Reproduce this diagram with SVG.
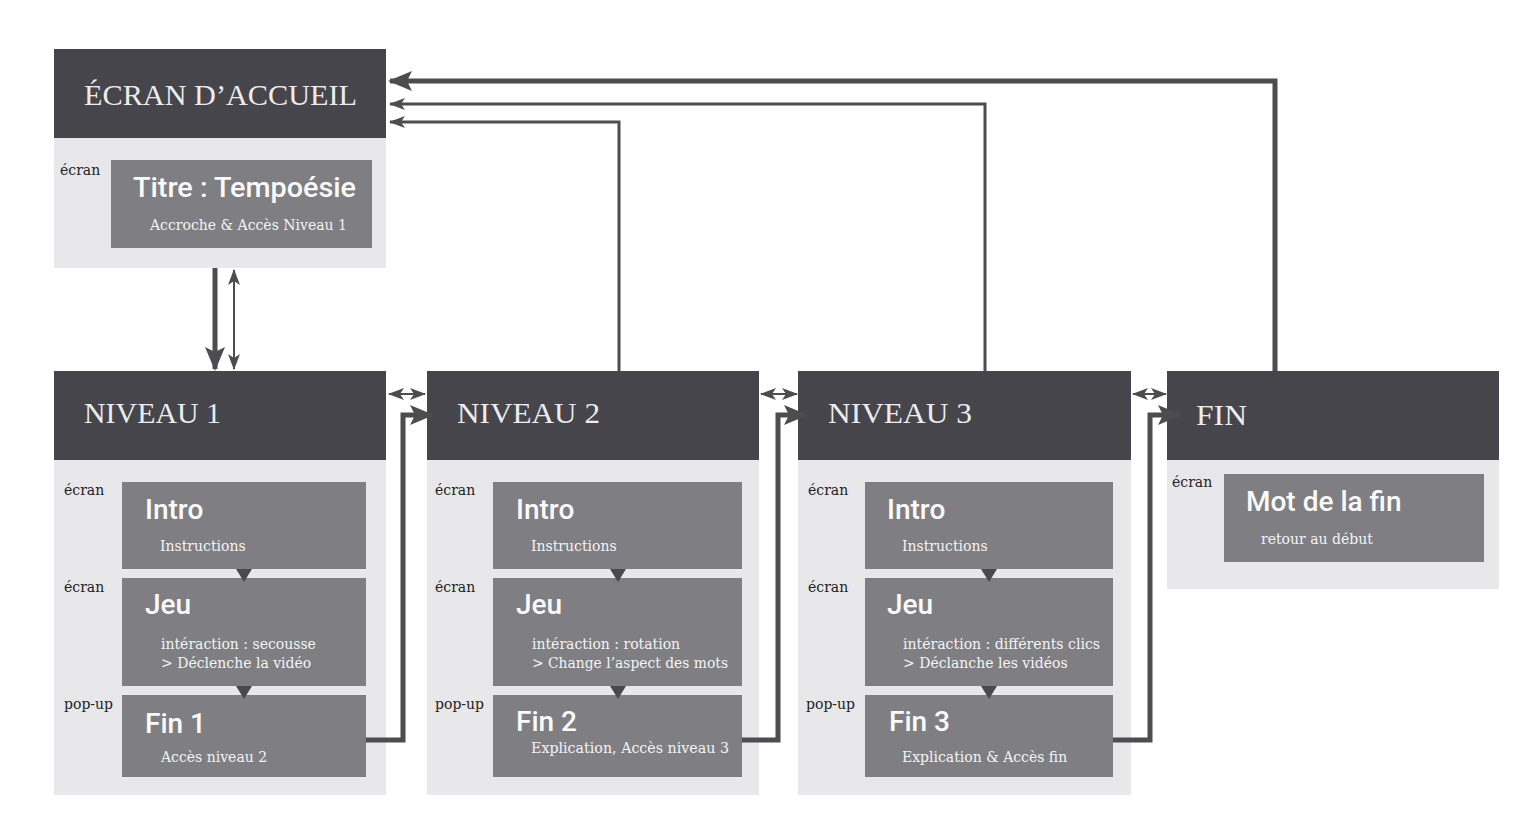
<svg xmlns="http://www.w3.org/2000/svg" width="1535" height="817" viewBox="0 0 1535 817">
<defs>
<marker id="big" markerUnits="userSpaceOnUse" markerWidth="24" markerHeight="20" refX="22" refY="10" orient="auto-start-reverse"><path d="M0,0 L24,10 L0,20 L5,10 z" fill="#4d4d50"/></marker>
<marker id="sm" markerUnits="userSpaceOnUse" markerWidth="16" markerHeight="12" refX="15" refY="6" orient="auto-start-reverse"><path d="M0,0 L16,6 L0,12 L4,6 z" fill="#4d4d50"/></marker>
</defs>
<style>
.hd{fill:#46454b}
.bd{fill:#e8e8ea}
.bx{fill:#7f7f83}
.ht{font-family:"Liberation Serif",serif;font-size:30px;fill:#ececee}
.tt{font-family:Roboto,"Liberation Sans",sans-serif;font-weight:500;font-size:28px;fill:#fafafa}
.st{font-family:"DejaVu Serif",serif;font-size:14px;fill:#f4f4f4}
.lb{font-family:"DejaVu Serif",serif;font-size:14px;fill:#222}
.c{fill:none;stroke:#4d4d50}
.tri{fill:#4a4a4e}
</style>
<rect width="1535" height="817" fill="#fff"/>
<g id="accueil">
<rect class="bd" x="54" y="138" width="332" height="130"/>
<rect class="hd" x="54" y="49" width="332" height="89"/>
<text class="ht" x="84" y="105" textLength="273" lengthAdjust="spacingAndGlyphs">ÉCRAN D’ACCUEIL</text>
<text class="lb" x="60" y="175">écran</text>
<rect class="bx" x="111" y="160" width="261" height="88"/>
<text class="tt" x="133" y="197" textLength="223" lengthAdjust="spacingAndGlyphs">Titre : Tempoésie</text>
<text class="st" x="150" y="230" textLength="197" lengthAdjust="spacingAndGlyphs">Accroche &amp; Accès Niveau 1</text>
</g>
<g id="niveau1">
<rect class="bd" x="54" y="460" width="332" height="335"/>
<rect class="hd" x="54" y="371" width="332" height="89"/>
<text class="ht" x="84" y="423" textLength="137" lengthAdjust="spacingAndGlyphs">NIVEAU 1</text>
<text class="lb" x="64" y="495">écran</text>
<text class="lb" x="64" y="592">écran</text>
<text class="lb" x="64" y="709">pop-up</text>
<rect class="bx" x="122" y="482" width="244" height="87"/>
<rect class="bx" x="122" y="578" width="244" height="108"/>
<rect class="bx" x="122" y="695" width="244" height="82"/>
<path class="tri" d="M236,569 H252 L244,582 z M236,686 H252 L244,699 z"/>
<text class="tt" x="145" y="519">Intro</text>
<text class="st" x="160" y="551">Instructions</text>
<text class="tt" x="145" y="614">Jeu</text>
<text class="st" x="161" y="649">intéraction : secousse</text>
<text class="st" x="161" y="668">&gt; Déclenche la vidéo</text>
<text class="tt" x="145" y="733">Fin 1</text>
<text class="st" x="161" y="762">Accès niveau 2</text>
</g>
<g id="niveau2">
<rect class="bd" x="427" y="460" width="332" height="335"/>
<rect class="hd" x="427" y="371" width="332" height="89"/>
<text class="ht" x="457" y="423" textLength="143" lengthAdjust="spacingAndGlyphs">NIVEAU 2</text>
<text class="lb" x="435" y="495">écran</text>
<text class="lb" x="435" y="592">écran</text>
<text class="lb" x="435" y="709">pop-up</text>
<rect class="bx" x="493" y="482" width="249" height="87"/>
<rect class="bx" x="493" y="578" width="249" height="108"/>
<rect class="bx" x="493" y="695" width="249" height="82"/>
<path class="tri" d="M610,569 H626 L618,582 z M610,686 H626 L618,699 z"/>
<text class="tt" x="516" y="519">Intro</text>
<text class="st" x="531" y="551">Instructions</text>
<text class="tt" x="516" y="614">Jeu</text>
<text class="st" x="532" y="649">intéraction : rotation</text>
<text class="st" x="532" y="668" textLength="196" lengthAdjust="spacingAndGlyphs">&gt; Change l’aspect des mots</text>
<text class="tt" x="516" y="731">Fin 2</text>
<text class="st" x="531" y="753" textLength="198" lengthAdjust="spacingAndGlyphs">Explication, Accès niveau 3</text>
</g>
<g id="niveau3">
<rect class="bd" x="798" y="460" width="333" height="335"/>
<rect class="hd" x="798" y="371" width="333" height="89"/>
<text class="ht" x="828" y="423" textLength="144" lengthAdjust="spacingAndGlyphs">NIVEAU 3</text>
<text class="lb" x="808" y="495">écran</text>
<text class="lb" x="808" y="592">écran</text>
<text class="lb" x="806" y="709">pop-up</text>
<rect class="bx" x="865" y="482" width="248" height="87"/>
<rect class="bx" x="865" y="578" width="248" height="108"/>
<rect class="bx" x="865" y="695" width="248" height="82"/>
<path class="tri" d="M981,569 H997 L989,582 z M981,686 H997 L989,699 z"/>
<text class="tt" x="887" y="519">Intro</text>
<text class="st" x="902" y="551">Instructions</text>
<text class="tt" x="887" y="614">Jeu</text>
<text class="st" x="903" y="649" textLength="197" lengthAdjust="spacingAndGlyphs">intéraction : différents clics</text>
<text class="st" x="903" y="668">&gt; Déclanche les vidéos</text>
<text class="tt" x="889" y="731">Fin 3</text>
<text class="st" x="902" y="762">Explication &amp; Accès fin</text>
</g>
<g id="fin">
<rect class="bd" x="1167" y="460" width="332" height="129"/>
<rect class="hd" x="1167" y="371" width="332" height="89"/>
<text class="ht" x="1196" y="425" textLength="51" lengthAdjust="spacingAndGlyphs">FIN</text>
<text class="lb" x="1172" y="487">écran</text>
<rect class="bx" x="1224" y="474" width="260" height="88"/>
<text class="tt" x="1246" y="511">Mot de la fin</text>
<text class="st" x="1261" y="544">retour au début</text>
</g>
<g id="connectors">
<path class="c" stroke-width="5" d="M1275,371 V81 H390" marker-end="url(#big)"/>
<path class="c" stroke-width="3" d="M985,371 V104 H390" marker-end="url(#sm)"/>
<path class="c" stroke-width="3" d="M619,371 V122 H390" marker-end="url(#sm)"/>
<path class="c" stroke-width="5" d="M215,268 V369" marker-end="url(#big)"/>
<path class="c" stroke-width="2" d="M234,270 V369" marker-start="url(#sm)" marker-end="url(#sm)"/>
<path class="c" stroke-width="2" d="M389,394 H425" marker-start="url(#sm)" marker-end="url(#sm)"/>
<path class="c" stroke-width="2" d="M761,394 H797" marker-start="url(#sm)" marker-end="url(#sm)"/>
<path class="c" stroke-width="2" d="M1133,394 H1166" marker-start="url(#sm)" marker-end="url(#sm)"/>
<path class="c" stroke-width="5" d="M366,740 H403 V415 H432" marker-end="url(#big)"/>
<path class="c" stroke-width="5" d="M742,740 H778 V415 H806" marker-end="url(#big)"/>
<path class="c" stroke-width="5" d="M1113,740 H1150 V415 H1180" marker-end="url(#big)"/>
</g>
</svg>
